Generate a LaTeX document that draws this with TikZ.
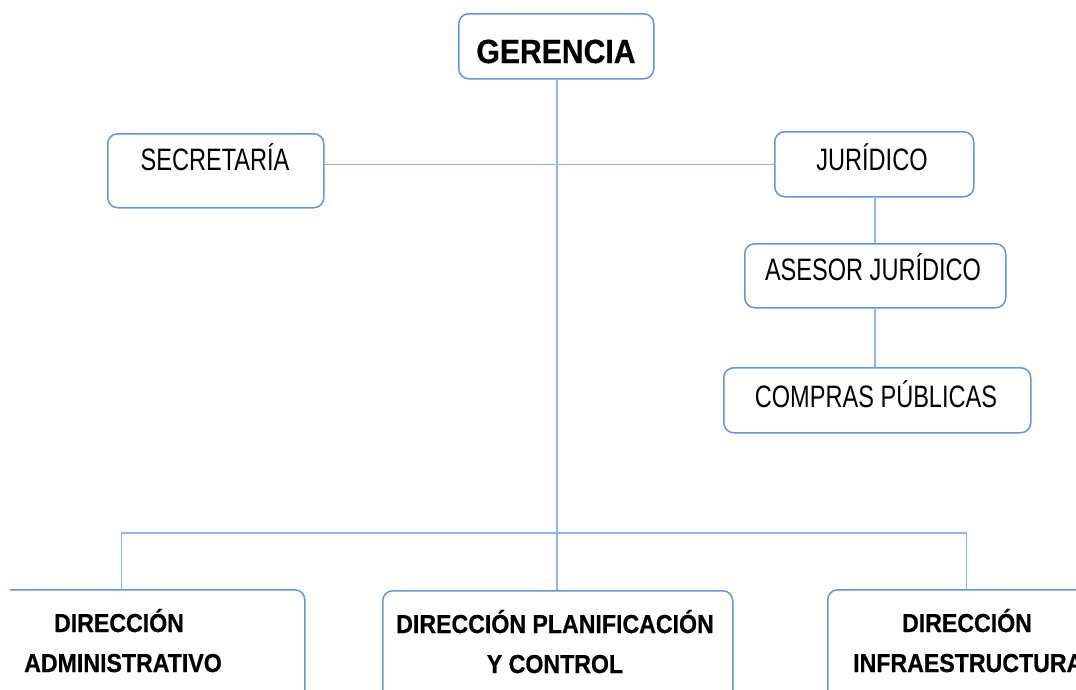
\documentclass[tikz,border=0pt]{standalone}
\usepackage{fontspec}
\setmainfont{Liberation Sans}[FakeStretch=0.76]
\newfontfamily\boldnarrow{Liberation Sans Bold}[FakeStretch=0.89,FakeBold=0.6]
\newfontfamily\boldtitle{Liberation Sans Bold}[FakeStretch=0.9,FakeBold=0.6]
\definecolor{boxc}{RGB}{100,150,220}
\definecolor{connc}{RGB}{145,182,228}
\tikzset{
  orgbox/.style={draw=boxc, line width=1.5pt, rounded corners=10pt, inner sep=0pt, anchor=north west, fill=white},
  conn/.style={draw=connc, line width=1.3pt},
  rtext/.style={inner sep=0pt, anchor=base, font=\fontsize{31}{31}\selectfont},
  btext/.style={inner sep=0pt, anchor=base, font=\boldnarrow\fontsize{26}{26}\selectfont},
  ttext/.style={inner sep=0pt, anchor=base, font=\boldtitle\fontsize{33.5}{33.5}\selectfont}
}
\begin{document}
\begin{tikzpicture}[x=1pt,y=-1pt]
\clip (0,0) rectangle (1076,689);
% boxes
\node[orgbox, minimum width=195pt, minimum height=65pt] (ger) at (458,13) {};
\node[orgbox, minimum width=216pt, minimum height=74pt] (sec) at (107,133) {};
\node[orgbox, minimum width=199pt, minimum height=65pt] (jur) at (774,131) {};
\node[orgbox, minimum width=261pt, minimum height=64pt] (ase) at (744,243) {};
\node[orgbox, minimum width=307pt, minimum height=65pt] (com) at (723,367) {};
\begin{scope}
\clip (10,0) rectangle (1076,689);
\node[orgbox, minimum width=366pt, minimum height=140pt] (adm) at (-62,589) {};
\end{scope}
\node[orgbox, minimum width=350pt, minimum height=140pt] (pla) at (382,590) {};
\node[orgbox, minimum width=278pt, minimum height=140pt] (inf) at (827,589) {};
% connectors
\coordinate (bus) at (557,533);
\draw[conn] (sec.east |- jur.west) -- (jur.west);
\draw[conn] (ger.south -| bus) -- (bus |- pla.north);
\draw[conn] (adm.north) |- (bus) -| (inf.north);
\draw[conn] (jur.south -| 875,0) -- (ase.north -| 875,0);
\draw[conn] (ase.south -| 875,0) -- (com.north -| 875,0);
% texts
\node[ttext] (tger) at (556,63) {GERENCIA};
\node[rtext] (tsec) at (215,170) {SECRETARÍA};
\node[rtext] (tjur) at (872,170) {JURÍDICO};
\node[rtext] (tase) at (873,280) {ASESOR JURÍDICO};
\node[rtext] (tcom) at (876,407) {COMPRAS PÚBLICAS};
\node[btext] (tadm1) at (119,632) {DIRECCIÓN};
\node[btext] (tadm2) at (123,672) {ADMINISTRATIVO};
\node[btext] (tpla1) at (555,633) {DIRECCIÓN PLANIFICACIÓN};
\node[btext] (tpla2) at (555,673) {Y CONTROL};
\node[btext] (tinf1) at (967,632) {DIRECCIÓN};
\node[btext, anchor=base west] (tinf2) at (853,672) {INFRAESTRUCTURA};
\end{tikzpicture}
\end{document}
